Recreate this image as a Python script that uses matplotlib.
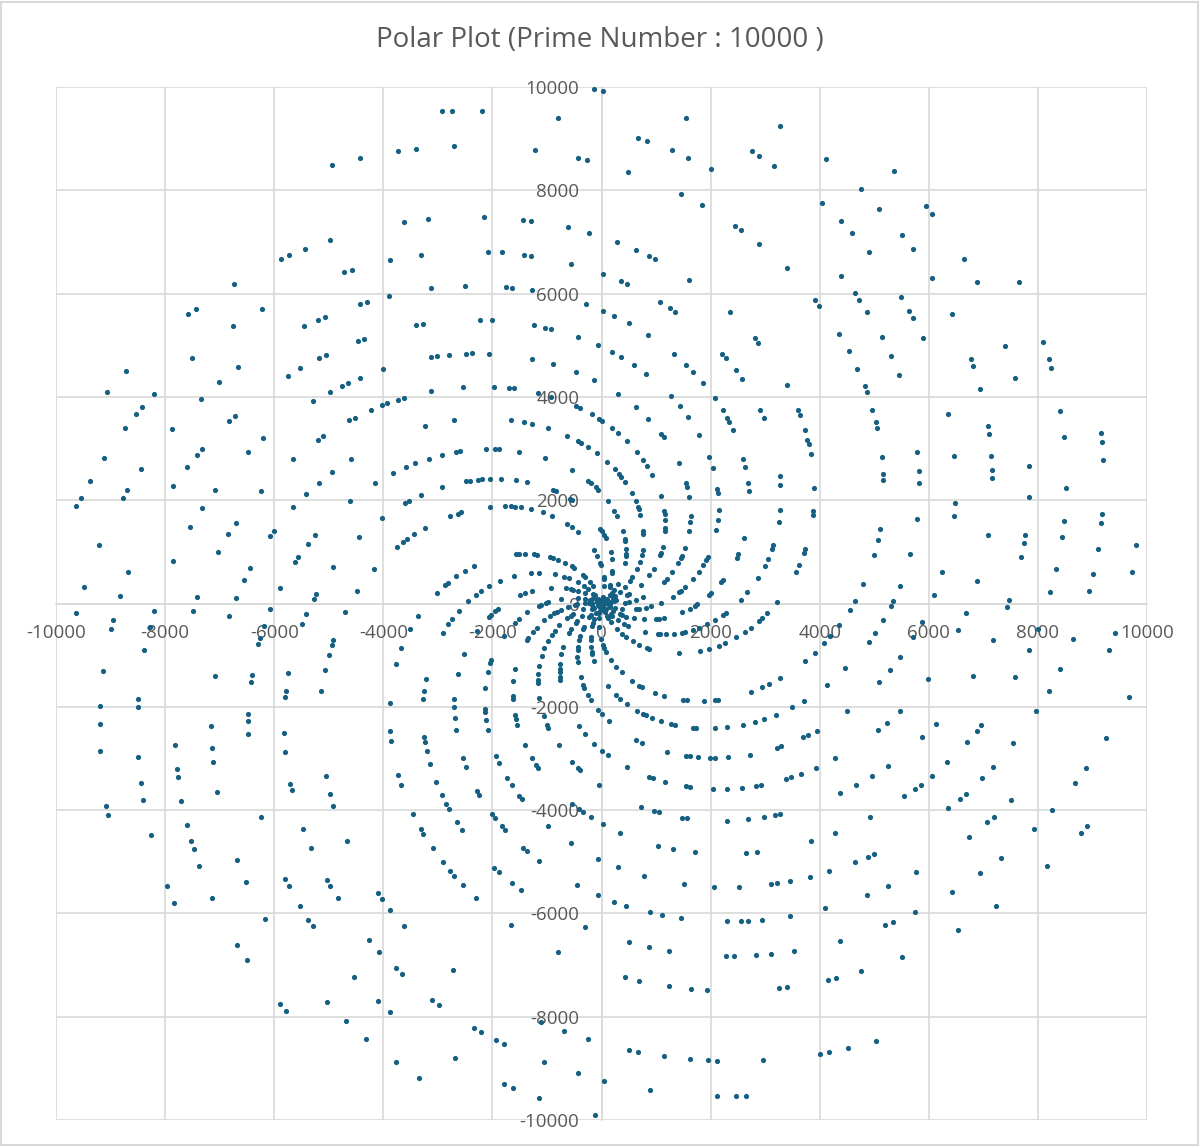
import numpy as np
import matplotlib
matplotlib.use('Agg')
import matplotlib.pyplot as plt
from matplotlib.patches import Rectangle

# chart data: every prime below the limit, drawn at radius = p, angle = p (radians)
prime_limit = 10000
tick_values = list(range(-10000, 10001, 2000))
tick_labels = [str(v) for v in tick_values]
title_text = "Polar Plot (Prime Number : 10000 )"

is_prime = np.ones(prime_limit + 1, dtype=bool)
is_prime[:2] = False
for n in range(2, int(prime_limit ** 0.5) + 1):
    if is_prime[n]:
        is_prime[n * n::n] = False
primes = np.nonzero(is_prime)[0]

x_vals = primes * np.cos(primes)
y_vals = primes * np.sin(primes)

plt.rcParams['font.family'] = ['Open Sans', 'DejaVu Sans']

fig = plt.figure(figsize=(12, 11.47), dpi=100)
ax = fig.add_axes([0.0467, 0.0235, 0.9092, 0.9006])

grid_col = '#d9d9d9'
text_col = '#595959'

ax.scatter(x_vals, y_vals, s=14, color='#156082', zorder=3, linewidths=0)

ax.set_xlim(-10000, 10000)
ax.set_ylim(-10000, 10000)
ax.set_xticks(tick_values)
ax.set_yticks(tick_values)
ax.set_xticklabels(tick_labels)
ax.set_yticklabels(tick_labels)
ax.grid(True, color=grid_col, linewidth=1.2, zorder=0)
ax.set_axisbelow(True)

# axes cross at zero like the spreadsheet chart
ax.spines['left'].set_position(('data', 0))
ax.spines['bottom'].set_position(('data', 0))
ax.spines['right'].set_visible(False)
ax.spines['top'].set_visible(False)
for side in ['left', 'bottom']:
    ax.spines[side].set_color(grid_col)
    ax.spines[side].set_linewidth(1.2)
ax.tick_params(axis='both', length=0, labelsize=13.5, labelcolor=text_col)
ax.tick_params(axis='x', pad=15)
ax.tick_params(axis='y', pad=16)

fig.text(0.5, 1 - 40 / 1147, title_text, fontsize=20, color=text_col,
         ha='center', va='center')

# thin outer frame around the whole chart
fig.patches.append(Rectangle((0.001, 0.002), 0.997, 0.996, transform=fig.transFigure,
                             fill=False, edgecolor=grid_col, linewidth=1.5))

fig.savefig('out.png', dpi=100)
